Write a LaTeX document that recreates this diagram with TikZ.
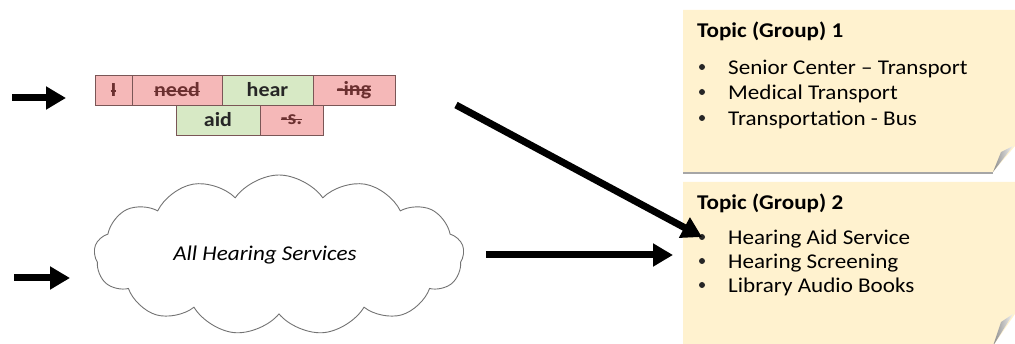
\documentclass[tikz,border=0pt]{standalone}
\usepackage{fontspec}
\setmainfont{Carlito}[FakeStretch=1.1]
\usetikzlibrary{positioning,arrows.meta,shapes.symbols,calc}
\definecolor{droppink}{HTML}{F5B8B8}
\definecolor{keepgreen}{HTML}{D7E9C5}
\definecolor{boxline}{HTML}{7A5656}
\definecolor{stickyyellow}{HTML}{FFF2CF}
\definecolor{strikered}{HTML}{6B3030}
\newsavebox\strikebox
\newcommand\struckword[1]{\sbox\strikebox{#1}\rlap{\rule[0.24em]{\wd\strikebox}{1.4pt}}\usebox\strikebox}
\tikzset{
  wordbox/.style={draw=boxline,line width=0.8pt,outer sep=0pt,minimum height=30pt,inner sep=0pt,font=\fontsize{20}{22}\selectfont\bfseries},
  keepbox/.style={wordbox,fill=keepgreen,text=black!85},
  dropbox/.style={wordbox,fill=droppink,text=strikered},
  bigarrow/.style={line width=7pt,-{Triangle[length=20pt,width=22pt]}},
  notebody/.style={inner sep=0pt,outer sep=0pt},
  notefill/.style={fill=stickyyellow},
  notetitle/.style={anchor=base west,inner sep=0pt,font=\fontsize{21}{24}\selectfont\bfseries},
  noteitem/.style={anchor=base west,inner sep=0pt,font=\fontsize{21}{24}\selectfont},
  notebullet/.style={circle,fill=black!85,inner sep=0pt,minimum size=6pt},
}
\begin{document}
\begin{tikzpicture}[x=1pt,y=-1pt]
\useasboundingbox (0,0) rectangle (1015,344);

% sticky notes
\node[notebody,minimum width=332pt,minimum height=162pt,anchor=north west] (note1) at (683,10) {};
\node[notebody,minimum width=332pt,minimum height=164pt,anchor=north west] (note2) at (683,182) {};
\path[notefill] (note1.north west) -- (note1.north east) -- ([yshift=26pt]note1.south east)
  -- ([xshift=-22pt]note1.south east) -- (note1.south west) -- cycle;
\draw[black!35,line width=2.5pt] ([yshift=-1pt]note1.south west) -- ([xshift=-22pt,yshift=-1pt]note1.south east);
\shade[left color=black!45,right color=black!5] ([xshift=-22pt]note1.south east)
  -- ([xshift=-14pt,yshift=20pt]note1.south east) -- ([xshift=-2pt,yshift=26pt]note1.south east) -- cycle;
\path[notefill] (note2.north west) -- (note2.north east) -- ([yshift=32pt]note2.south east)
  -- ([xshift=-22pt]note2.south east) -- (note2.south west) -- cycle;
\shade[left color=black!45,right color=black!5] ([xshift=-22pt]note2.south east)
  -- ([xshift=-14pt,yshift=24pt]note2.south east) -- ([xshift=-2pt,yshift=32pt]note2.south east) -- cycle;

\node[notetitle] (g1title) at (697,38) {Topic (Group) 1};
\node[noteitem] (g1a) at (728,75) {Senior Center – Transport};
\node[noteitem] (g1b) at (728,100) {Medical Transport};
\node[noteitem] (g1c) at (728,126) {Transportation - Bus};
\node[notebullet] (g1adot) at ($(g1a.base west)+(-26,-8)$) {};
\node[notebullet] (g1bdot) at ($(g1b.base west)+(-26,-8)$) {};
\node[notebullet] (g1cdot) at ($(g1c.base west)+(-26,-8)$) {};

\node[notetitle] (g2title) at (697,210) {Topic (Group) 2};
\node[noteitem] (g2a) at (728,245) {Hearing Aid Service};
\node[noteitem] (g2b) at (728,269) {Hearing Screening};
\node[noteitem] (g2c) at (728,293) {Library Audio Books};
\node[notebullet] (g2adot) at ($(g2a.base west)+(-26,-8)$) {};
\node[notebullet] (g2bdot) at ($(g2b.base west)+(-26,-8)$) {};
\node[notebullet] (g2cdot) at ($(g2c.base west)+(-26,-8)$) {};

% word pieces
\node[dropbox,minimum width=37pt,anchor=north west] (wI) at (95,75) {\struckword{I}};
\node[dropbox,minimum width=90pt,right=0pt of wI] (wneed) {\struckword{need}};
\node[keepbox,minimum width=91pt,right=0pt of wneed] (whear) {hear};
\node[dropbox,minimum width=82pt,right=0pt of whear] (wing) {\struckword{-ing}};
\node[keepbox,minimum width=84pt,anchor=north west] (waid) at (176,105) {aid};
\node[dropbox,minimum width=63pt,right=0pt of waid] (ws) {\struckword{-s.}};

% service pool
\node[cloud,draw=black!55,line width=0.9pt,cloud puffs=13,cloud puff arc=110,aspect=2.3,
  minimum width=370pt,minimum height=160pt,inner sep=0pt,
  font=\fontsize{21}{24}\selectfont\itshape] (pool) at (279,255) {\hspace*{-28pt}All Hearing Services};

% arrows
\coordinate (in1s) at (12,98);
\coordinate (in1e) at (66,98);
\coordinate (in2s) at (14,278);
\coordinate (in2e) at (70,278);
\coordinate (hearsrc) at (456,105);
\draw[bigarrow] (in1s) -- (in1e);
\draw[bigarrow] (in2s) -- (in2e);
\draw[bigarrow] (hearsrc) -- (g2adot.center);
\draw[bigarrow,shorten <=22pt,shorten >=10pt] (pool.east) -- (pool.east -| note2.west);

\end{tikzpicture}
\end{document}
